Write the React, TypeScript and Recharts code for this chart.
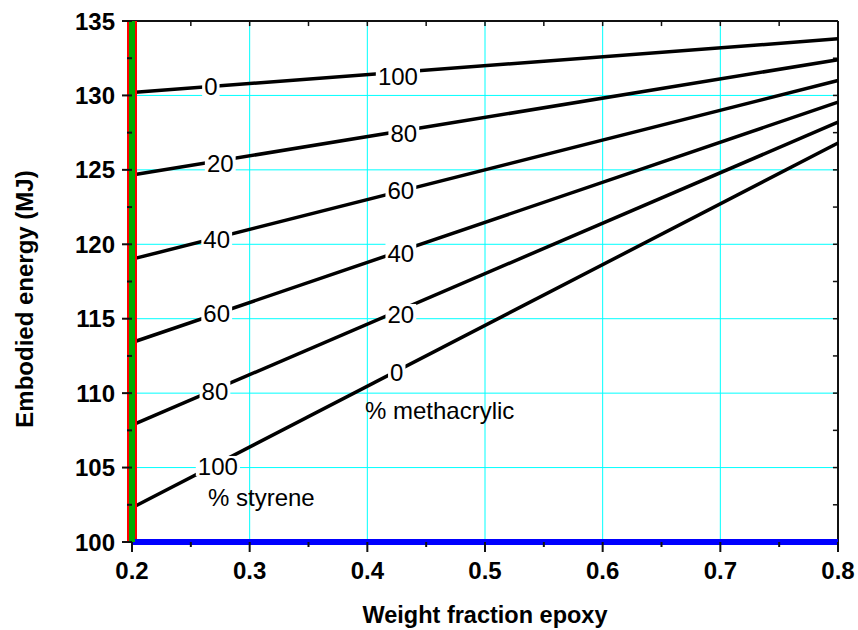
import React from "react";
import { LineChart, Line, XAxis, YAxis, CartesianGrid, ReferenceDot, ReferenceLine } from "recharts";

// weight fraction epoxy at both ends of each line
const EPOXY = [0.2, 0.8];

// embodied energy (MJ) for each styrene share, read at EPOXY
const STYRENE_0 = [130.2, 133.8];
const STYRENE_20 = [124.65, 132.4];
const STYRENE_40 = [119.0, 131.0];
const STYRENE_60 = [113.4, 129.55];
const STYRENE_80 = [107.85, 128.2];
const STYRENE_100 = [102.3, 126.8];

const SERIES = [STYRENE_0, STYRENE_20, STYRENE_40, STYRENE_60, STYRENE_80, STYRENE_100];

// in-line labels (left = % styrene, right = % methacrylic)
const STYRENE_LABELS = ["0", "20", "40", "60", "80", "100"];
const STYRENE_LABEL_X = [0.267, 0.275, 0.272, 0.272, 0.2705, 0.273];
const STYRENE_LABEL_Y = [130.63, 125.46, 120.36, 115.38, 110.14, 105.11];
const METHACRYLIC_LABELS = ["100", "80", "60", "40", "20", "0"];
const METHACRYLIC_LABEL_X = [0.426, 0.431, 0.4285, 0.4285, 0.4285, 0.425];
const METHACRYLIC_LABEL_Y = [131.3, 127.48, 123.65, 119.41, 115.32, 111.42];

const NOTES = ["% methacrylic", "% styrene"];
const NOTE_X = [0.398, 0.2646];
const NOTE_Y = [108.87, 103.0];

const X_TICKS = [0.2, 0.25, 0.3, 0.35, 0.4, 0.45, 0.5, 0.55, 0.6, 0.65, 0.7, 0.75, 0.8];
const X_MAJOR = [0.2, 0.3, 0.4, 0.5, 0.6, 0.7, 0.8];
const Y_TICKS = [100, 102.5, 105, 107.5, 110, 112.5, 115, 117.5, 120, 122.5, 125, 127.5, 130, 132.5, 135];
const Y_MAJOR = [100, 105, 110, 115, 120, 125, 130, 135];

const FONT = "Arial, 'Liberation Sans', Helvetica, sans-serif";
const GRID = "#00ffff";
const INK = "#111111";

const XTick = (props: any) => {
  const { x, y, payload } = props;
  const major = X_MAJOR.includes(payload.value);
  return (
    <g>
      <line x1={x} y1={y} x2={x} y2={y + (major ? 10 : 5)} stroke={INK} strokeWidth={2} />
      {major && (
        <text x={x} y={y + 37} textAnchor="middle" fontFamily={FONT} fontWeight="bold" fontSize={24} fill="#000">
          {payload.value.toFixed(1)}
        </text>
      )}
    </g>
  );
};

const YTick = (props: any) => {
  const { x, y, payload } = props;
  const major = Y_MAJOR.includes(payload.value);
  return (
    <g>
      <line x1={x - (major ? 10 : 5)} y1={y} x2={x} y2={y} stroke={INK} strokeWidth={2} />
      {major && (
        <text x={x - 17} y={y + 8.5} textAnchor="end" fontFamily={FONT} fontWeight="bold" fontSize={24} fill="#000">
          {payload.value}
        </text>
      )}
    </g>
  );
};

const lineLabel = (text: string) => (props: any) => {
  const { cx, cy } = props;
  const w = text.length * 13.4 + 4;
  return (
    <g>
      <rect x={cx - w / 2} y={cy - 10} width={w} height={20} fill="#fff" />
      <text x={cx} y={cy} dy="0.36em" textAnchor="middle" fontFamily={FONT} fontSize={24} fill="#000">
        {text}
      </text>
    </g>
  );
};

const noteLabel = (text: string) => (props: any) => {
  const { cx, cy } = props;
  return (
    <text x={cx} y={cy} dy="0.36em" textAnchor="start" fontFamily={FONT} fontSize={24} fill="#000">
      {text}
    </text>
  );
};

const XTitle = () => (
  <text x={485} y={623} textAnchor="middle" fontFamily={FONT} fontWeight="bold" fontSize={23.5} fill="#000">
    Weight fraction epoxy
  </text>
);

const YTitle = () => (
  <text x={33} y={299} transform="rotate(-90 33 299)" textAnchor="middle" fontFamily={FONT} fontWeight="bold" fontSize={24} fill="#000">
    Embodied energy (MJ)
  </text>
);

const X_MIN = X_TICKS[0];
const X_MAX = X_TICKS[X_TICKS.length - 1];
const Y_MIN = Y_TICKS[0];
const Y_MAX = Y_TICKS[Y_TICKS.length - 1];

export default function App() {
  return (
    <div style={{ position: "absolute", left: 0, top: 0, background: "#fff" }}>
      <LineChart width={858} height={630} margin={{ top: 21, right: 20, bottom: 0, left: 0 }}>
        <CartesianGrid
          stroke={GRID}
          strokeWidth={1}
          horizontalValues={[105, 110, 115, 120, 125, 130]}
          verticalValues={[0.3, 0.4, 0.5, 0.6, 0.7]}
        />
        <XAxis
          type="number"
          dataKey="x"
          domain={[X_MIN, X_MAX]}
          ticks={X_TICKS}
          interval={0}
          height={88}
          tickSize={0}
          tickMargin={0}
          tick={<XTick />}
          axisLine={{ stroke: "#0000ff", strokeWidth: 6 }}
          label={<XTitle />}
        />
        <YAxis
          type="number"
          domain={[Y_MIN, Y_MAX]}
          ticks={Y_TICKS}
          interval={0}
          width={132}
          tickSize={0}
          tickMargin={0}
          tick={<YTick />}
          axisLine={{ stroke: "#00aa00", strokeWidth: 6 }}
          label={<YTitle />}
        />
        <ReferenceLine y={Y_MAX} stroke={INK} strokeWidth={2} ifOverflow="visible" />
        <ReferenceLine x={X_MAX} stroke={INK} strokeWidth={2} ifOverflow="visible" />
        {X_TICKS.slice(1, -1).map((t) => (
          <ReferenceLine
            key={"tx" + t}
            segment={[{ x: t, y: Y_MAX }, { x: t, y: Y_MAX - 0.34 }]}
            stroke={INK}
            strokeWidth={1.5}
            ifOverflow="visible"
          />
        ))}
        {Y_TICKS.slice(1, -1).map((t) => (
          <ReferenceLine
            key={"ty" + t}
            segment={[{ x: X_MAX, y: t }, { x: X_MAX - 0.0043, y: t }]}
            stroke={INK}
            strokeWidth={1.5}
            ifOverflow="visible"
          />
        ))}
        {SERIES.map((vals, i) => (
          <Line
            key={i}
            data={EPOXY.map((x, j) => ({ x, y: vals[j] }))}
            dataKey="y"
            type="linear"
            stroke="#000"
            strokeWidth={3.5}
            dot={false}
            activeDot={false}
            isAnimationActive={false}
          />
        ))}
        {STYRENE_LABELS.map((t, i) => (
          <ReferenceDot key={"s" + i} x={STYRENE_LABEL_X[i]} y={STYRENE_LABEL_Y[i]} r={0} shape={lineLabel(t)} />
        ))}
        {METHACRYLIC_LABELS.map((t, i) => (
          <ReferenceDot key={"m" + i} x={METHACRYLIC_LABEL_X[i]} y={METHACRYLIC_LABEL_Y[i]} r={0} shape={lineLabel(t)} />
        ))}
        {NOTES.map((t, i) => (
          <ReferenceDot key={"n" + i} x={NOTE_X[i]} y={NOTE_Y[i]} r={0} shape={noteLabel(t)} />
        ))}
        <ReferenceLine x={X_MIN} stroke="#ff0000" strokeWidth={10} ifOverflow="visible" />
      </LineChart>
    </div>
  );
}
